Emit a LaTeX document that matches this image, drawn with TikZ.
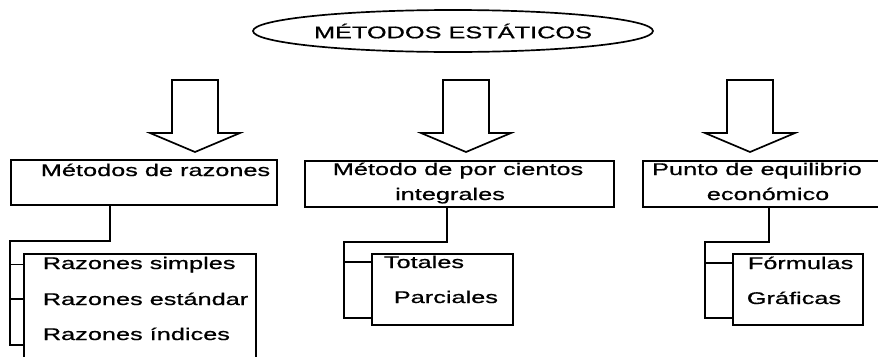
\documentclass[tikz,border=0pt]{standalone}
\usepackage{fontspec}
\setmainfont{Liberation Sans}[FakeStretch=1.5,FakeBold=0.8]
\usetikzlibrary{positioning}
\usetikzlibrary{shapes.geometric}
\newlength\px
\setlength\px{0.025cm}

\begin{document}
\begin{tikzpicture}[
  x=0.025cm, y=-0.025cm,
  font=\fontsize{12}{17.8}\selectfont,
  line width=1.2pt,
  mybox/.style={draw,rectangle,anchor=north west,inner sep=0},
  mytext/.style={inner sep=0,anchor=base west},
  mytitle/.style={draw,ellipse,minimum width=400\px,minimum height=42\px,inner sep=0},
  bigarrow/.pic={
    \draw[line join=miter] (-23,0) -- (-23,53) -- (-45,53) -- (0,72)
      -- (45,53) -- (23,53) -- (23,0) -- cycle;
  }
]
\useasboundingbox (0,0) rectangle (878,356);
\clip (0,0) rectangle (878,356);

\node[mytitle] (titulo) at (453,31) {MÉTODOS ESTÁTICOS};

\pic at (195,80) {bigarrow};
\pic at (466,80) {bigarrow};
\pic at (750,80) {bigarrow};

% cajas
\node[mybox,minimum width=266\px,minimum height=45\px] (r1) at (10,159) {};
\node[mybox,minimum width=309\px,minimum height=46\px] (r2) at (304,160) {};
\node[mybox,minimum width=250\px,minimum height=46\px] (r3) at (642,160) {};
\node[mybox,minimum width=232\px,minimum height=120\px] (s1) at (23,253) {};
\node[mybox,minimum width=141\px,minimum height=71\px] (s2) at (371,253) {};
\node[mybox,minimum width=130\px,minimum height=71\px] (s3) at (732,253) {};

% textos
\node[mytext] (m1) at (40,176) {Métodos de razones};
\node[mytext,anchor=base] (m2) at (458,175) {Método de por cientos};
\node[mytext,anchor=base] (m2b) at (450,200) {integrales};
\node[mytext,anchor=base] (m3) at (757,175) {Punto de equilibrio};
\node[mytext,anchor=base] (m3b) at (768,200) {económico};
\node[mytext] (t11) at (42,269) {Razones simples};
\node[mytext] (t12) at (42,305) {Razones estándar};
\node[mytext] (t13) at (42,340) {Razones índices};
\node[mytext] (t21) at (383,268) {Totales};
\node[mytext] (t22) at (393,303) {Parciales};
\node[mytext] (t31) at (747,269) {Fórmulas};
\node[mytext] (t32) at (746,304) {Gráficas};

% llaves
\coordinate (j1) at (110,241);
\coordinate (k1) at (10,345);
\draw (r1.south -| j1) -- (j1) -| (k1) -- (k1 -| s1.west);
\draw (k1 |- t11) -- (t11 -| s1.west);
\draw (k1 |- t12) -- (t12 -| s1.west);

\coordinate (j2) at (447,242);
\coordinate (k2) at (344,318);
\draw (r2.south -| j2) -- (j2) -| (k2) -- (k2 -| s2.west);
\draw (k2 |- t21) -- (t21 -| s2.west);

\coordinate (j3) at (769,242);
\coordinate (k3) at (705,318);
\draw (r3.south -| j3) -- (j3) -| (k3) -- (k3 -| s3.west);
\draw (k3 |- t31) -- (t31 -| s3.west);

\end{tikzpicture}
\end{document}
